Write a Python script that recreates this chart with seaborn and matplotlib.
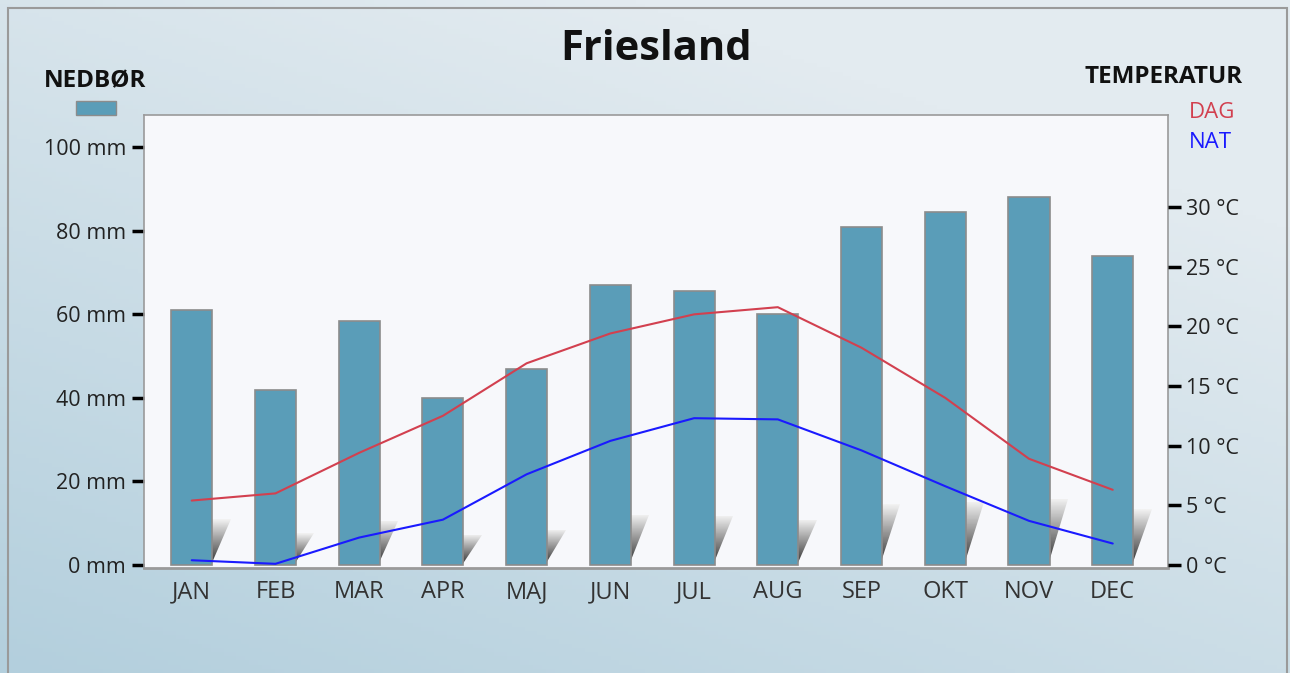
import numpy as np
import pandas as pd
import matplotlib
matplotlib.use("Agg")
import matplotlib.pyplot as plt
import seaborn as sns
from matplotlib.patches import Rectangle, Polygon

# Klimadata Friesland
months = ["JAN", "FEB", "MAR", "APR", "MAJ", "JUN", "JUL", "AUG", "SEP", "OKT", "NOV", "DEC"]
rain_mm = [61, 42, 58.5, 40, 47, 67, 65.5, 60, 81, 84.5, 88, 74]
temp_day = [5.4, 6.0, 9.4, 12.5, 16.9, 19.4, 21.0, 21.6, 18.2, 14.0, 8.9, 6.3]
temp_night = [0.4, 0.1, 2.3, 3.8, 7.6, 10.4, 12.3, 12.2, 9.6, 6.6, 3.7, 1.8]
mm_ticks = [0, 20, 40, 60, 80, 100]
c_ticks = [0, 5, 10, 15, 20, 25, 30]

BAR = "#5a9db8"
RED = "#d2404f"
BLUE = "#1a1aff"

sns.set_theme(style="white")
plt.rcParams["font.family"] = ["Open Sans", "DejaVu Sans"]

fig = plt.figure(figsize=(12.9, 6.73), dpi=100)

# background gradient
bg = fig.add_axes([0, 0, 1, 1], zorder=-10)
gx, gy = np.meshgrid(np.linspace(0, 1, 300), np.linspace(0, 1, 160))
grad = np.clip(0.5 * gx + 0.75 * gy, 0, 1)
cmap = matplotlib.colors.LinearSegmentedColormap.from_list("bgc", ["#b3cfdd", "#e3ebf0"])
bg.imshow(grad, cmap=cmap, origin="lower", aspect="auto", extent=[0, 1, 0, 1])
bg.add_patch(Rectangle((8 / 1290, -0.01), 1279 / 1290, 1 - 8 / 673 + 0.01,
                       fill=False, ec="#9a9a9a", lw=1.5, transform=bg.transAxes))
bg.set_xlim(0, 1)
bg.set_ylim(0, 1)
bg.axis("off")

ax = fig.add_axes([144 / 1290, 1 - 568 / 673, 1024 / 1290, 453 / 673])
ax.set_facecolor("#f7f8fb")

df = pd.DataFrame({"month": months, "rain": rain_mm})
sns.barplot(data=df, x="month", y="rain", ax=ax, color=BAR, width=0.49,
            saturation=1, edgecolor="#8c8c8c", linewidth=1.2, zorder=3)

# shadow wedges next to bars
shade_cmap = matplotlib.colors.LinearSegmentedColormap.from_list("sh", ["#2e2e2e", "#f2f2f2"])
for p in ax.patches:
    x1 = p.get_x() + p.get_width()
    h = p.get_height() * 0.18
    poly = Polygon([(x1 - 0.02, 0), (x1 - 0.02, h), (x1 + 0.22, h)], closed=True,
                   fc="none", ec="none", zorder=2)
    ax.add_patch(poly)
    shade = np.linspace(0, 1, 50).reshape(-1, 1)
    im = ax.imshow(shade, cmap=shade_cmap, origin="lower", aspect="auto",
                   extent=[x1 - 0.02, x1 + 0.22, 0, h], zorder=2)
    im.set_clip_path(poly)

ax.set_xlim(-0.57, 11.66)
ax.set_ylim(-0.7, 107.7)
ax.set_xlabel("")
ax.set_ylabel("")
ax.set_yticks(mm_ticks)
ax.set_yticklabels([f"{v} mm" for v in mm_ticks])
ax.tick_params(axis="y", direction="out", length=9, width=2.5, color="black",
               labelsize=15.5, labelcolor="#222222", pad=4)
ax.tick_params(axis="x", length=0, labelsize=17, labelcolor="#333333", pad=9)
for s in ax.spines.values():
    s.set_color("#9a9a9a")
    s.set_linewidth(1.2)
ax.spines["bottom"].set_linewidth(2)

ax2 = ax.twinx()
xs = np.arange(len(months))
sns.lineplot(x=xs, y=temp_day, ax=ax2, color=RED, lw=1.5, zorder=5)
sns.lineplot(x=xs, y=temp_night, ax=ax2, color=BLUE, lw=1.5, zorder=5)
ax2.set_ylim(-0.25, 37.7)
ax2.set_yticks(c_ticks)
ax2.set_yticklabels([f"{v} °C" for v in c_ticks])
ax2.tick_params(axis="y", direction="out", length=9, width=2.5, color="black",
                labelsize=15.5, labelcolor="#222222", pad=4)
ax2.grid(False)
for s in ax2.spines.values():
    s.set_visible(False)

# titles and legend labels
fig.text(656 / 1290, 1 - 50 / 673, "Friesland", ha="center", va="center",
         fontsize=30, fontweight="bold", color="#111111")
fig.text(95 / 1290, 1 - 81 / 673, "NEDBØR", ha="center", va="center",
         fontsize=17.5, fontweight="bold", color="#111111")
fig.patches.append(Rectangle((76 / 1290, 1 - 115 / 673), 40 / 1290, 14 / 673,
                             fc=BAR, ec="#8c8c8c", lw=1, transform=fig.transFigure))
fig.text(1243 / 1290, 1 - 77 / 673, "TEMPERATUR", ha="right", va="center",
         fontsize=17.5, fontweight="bold", color="#111111")
fig.text(1189 / 1290, 1 - 113 / 673, "DAG", ha="left", va="center",
         fontsize=16, color=RED)
fig.text(1189 / 1290, 1 - 143 / 673, "NAT", ha="left", va="center",
         fontsize=16, color=BLUE)

fig.savefig("out.png", dpi=100)
